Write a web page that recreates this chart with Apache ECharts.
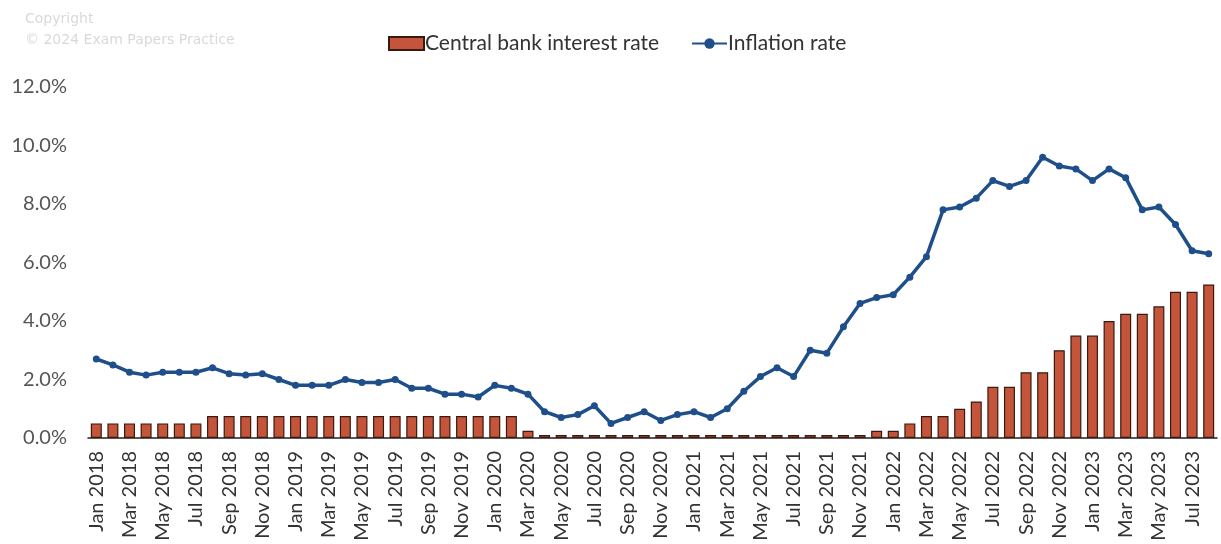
<!DOCTYPE html>
<html>
<head>
<meta charset="utf-8">
<script src="https://cdn.jsdelivr.net/npm/echarts@6/dist/echarts.min.js"></script>
<style>
  html, body { margin: 0; padding: 0; background: #fff; }
  #chart { width: 1221px; height: 544px; }
</style>
</head>
<body>
<div id="chart"></div>
<script>
// Monthly observations, Jan 2018 to Aug 2023
const months = [
  'Jan 2018','Feb 2018','Mar 2018','Apr 2018','May 2018','Jun 2018','Jul 2018','Aug 2018','Sep 2018','Oct 2018','Nov 2018','Dec 2018',
  'Jan 2019','Feb 2019','Mar 2019','Apr 2019','May 2019','Jun 2019','Jul 2019','Aug 2019','Sep 2019','Oct 2019','Nov 2019','Dec 2019',
  'Jan 2020','Feb 2020','Mar 2020','Apr 2020','May 2020','Jun 2020','Jul 2020','Aug 2020','Sep 2020','Oct 2020','Nov 2020','Dec 2020',
  'Jan 2021','Feb 2021','Mar 2021','Apr 2021','May 2021','Jun 2021','Jul 2021','Aug 2021','Sep 2021','Oct 2021','Nov 2021','Dec 2021',
  'Jan 2022','Feb 2022','Mar 2022','Apr 2022','May 2022','Jun 2022','Jul 2022','Aug 2022','Sep 2022','Oct 2022','Nov 2022','Dec 2022',
  'Jan 2023','Feb 2023','Mar 2023','Apr 2023','May 2023','Jun 2023','Jul 2023','Aug 2023'
];

// Central bank interest rate, %
const interestRate = [
  0.5, 0.5, 0.5, 0.5, 0.5, 0.5, 0.5, 0.75, 0.75, 0.75, 0.75, 0.75,
  0.75, 0.75, 0.75, 0.75, 0.75, 0.75, 0.75, 0.75, 0.75, 0.75, 0.75, 0.75,
  0.75, 0.75, 0.25, 0.1, 0.1, 0.1, 0.1, 0.1, 0.1, 0.1, 0.1, 0.1,
  0.1, 0.1, 0.1, 0.1, 0.1, 0.1, 0.1, 0.1, 0.1, 0.1, 0.1, 0.25,
  0.25, 0.5, 0.75, 0.75, 1.0, 1.25, 1.75, 1.75, 2.25, 2.25, 3.0, 3.5,
  3.5, 4.0, 4.25, 4.25, 4.5, 5.0, 5.0, 5.25
];

// Inflation rate, %
const inflationRate = [
  2.7, 2.5, 2.25, 2.15, 2.25, 2.25, 2.25, 2.4, 2.2, 2.15, 2.2, 2.0,
  1.8, 1.8, 1.8, 2.0, 1.9, 1.9, 2.0, 1.7, 1.7, 1.5, 1.5, 1.4,
  1.8, 1.7, 1.5, 0.9, 0.7, 0.8, 1.1, 0.5, 0.7, 0.9, 0.6, 0.8,
  0.9, 0.7, 1.0, 1.6, 2.1, 2.4, 2.1, 3.0, 2.9, 3.8, 4.6, 4.8,
  4.9, 5.5, 6.2, 7.8, 7.9, 8.2, 8.8, 8.6, 8.8, 9.6, 9.3, 9.2,
  8.8, 9.2, 8.9, 7.8, 7.9, 7.3, 6.4, 6.3
];

const yTicks = { min: 0, max: 12, step: 2 };

const FONT = 'Lato, "Open Sans", sans-serif';

const chart = echarts.init(document.getElementById('chart'), null, { renderer: 'canvas' });

chart.setOption({
  backgroundColor: '#ffffff',
  animation: false,
  textStyle: { fontFamily: FONT },
  graphic: [
    {
      type: 'text', left: 25, top: 12,
      style: { text: 'Copyright', font: '14px "DejaVu Sans", sans-serif', fill: '#d9d9d9' }
    },
    {
      type: 'text', left: 25, top: 33,
      style: { text: '\u00A9 2024 Exam Papers Practice', font: '14px "DejaVu Sans", sans-serif', fill: '#d9d9d9' }
    }
  ],
  legend: {
    left: 383,
    top: 28,
    itemWidth: 35,
    itemHeight: 13,
    itemGap: 32,
    textStyle: { fontFamily: FONT, fontSize: 21, color: '#333333', padding: [0, 0, 0, -4] },
    data: [
      { name: 'Central bank interest rate', icon: 'rect' },
      { name: 'Inflation rate' }
    ]
  },
  grid: { left: 88, right: 4, top: 87, bottom: 106, containLabel: false },
  xAxis: {
    type: 'category',
    data: months,
    boundaryGap: true,
    axisLine: { show: true, lineStyle: { color: '#222222', width: 1.5 } },
    axisTick: { show: false },
    axisLabel: {
      interval: 1,
      rotate: 90,
      margin: 13,
      fontFamily: FONT,
      fontSize: 20,
      color: '#333333'
    },
    splitLine: { show: false }
  },
  yAxis: {
    type: 'value',
    min: yTicks.min,
    max: yTicks.max,
    interval: yTicks.step,
    axisLine: { show: false },
    axisTick: { show: false },
    splitLine: { show: false },
    axisLabel: {
      margin: 21,
      fontFamily: FONT,
      fontSize: 20,
      color: '#555555',
      formatter: v => v.toFixed(1) + '%'
    }
  },
  series: [
    {
      name: 'Central bank interest rate',
      type: 'bar',
      data: interestRate,
      barWidth: 11,
      itemStyle: { color: '#c4553a', borderColor: '#3a1a10', borderWidth: 1.2 },
      z: 2
    },
    {
      name: 'Inflation rate',
      type: 'line',
      data: inflationRate,
      symbol: 'circle',
      symbolSize: 7,
      showSymbol: true,
      lineStyle: { color: '#1f4f8a', width: 3.5 },
      itemStyle: { color: '#1f4f8a' },
      z: 3
    }
  ]
});
</script>
</body>
</html>
